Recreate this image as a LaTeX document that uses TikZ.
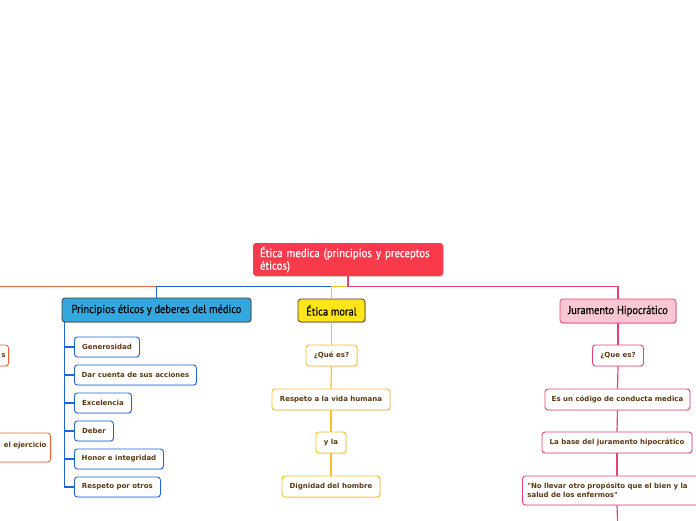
\documentclass[tikz,border=0pt]{standalone}
\usepackage{fontspec}
\usetikzlibrary{shadows}
\newfontfamily\titlefont[FakeStretch=0.9,FakeBold=0.4]{PT Sans}
\newfontfamily\lblfont{DejaVu Sans}
\definecolor{cred}{HTML}{F83A4B}
\definecolor{cblue}{HTML}{35A7DF}
\definecolor{cblueline}{HTML}{1E64D6}
\definecolor{cyellow}{HTML}{FFE51A}
\definecolor{cyelline}{HTML}{FBBF2A}
\definecolor{cpink}{HTML}{F9C6D4}
\definecolor{cpinkline}{HTML}{E9407A}
\definecolor{corange}{HTML}{F0633A}
\definecolor{ctext}{HTML}{5A3A12}
\definecolor{cdark}{HTML}{4A3C2C}
\tikzset{
  x=1pt,y=-1pt,
  mainbox/.style={rounded corners=3pt, inner sep=0pt, text centered, font=\titlefont\fontsize{12}{12.5}\selectfont, drop shadow={shadow xshift=1pt, shadow yshift=-1pt, opacity=0.3}},
  topbox/.style={rounded corners=3pt, inner sep=0pt, draw=cdark, line width=0.8pt, font=\titlefont\fontsize{11.6}{12}\selectfont, text=black, drop shadow={shadow xshift=1pt, shadow yshift=-1.2pt, opacity=0.35}},
  leaf/.style={rounded corners=3pt, inner sep=0pt, fill=white, line width=0.9pt, font=\lblfont\bfseries\fontsize{7}{9}\selectfont, text=ctext, drop shadow={shadow xshift=0.8pt, shadow yshift=-1pt, opacity=0.2}},
  bleaf/.style={leaf, draw=cblueline},
  yleaf/.style={leaf, draw=cyelline},
  pleaf/.style={leaf, draw=cpinkline},
  oleaf/.style={leaf, draw=corange},
  bline/.style={draw=cblueline, line width=1.2pt},
  yline/.style={draw=cyelline, line width=1.2pt},
  pline/.style={draw=cpinkline, line width=1.2pt},
  oline/.style={draw=corange, line width=1.2pt},
}
\begin{document}
\begin{tikzpicture}
\useasboundingbox (0,0) rectangle (696,520);
\clip (0,0) rectangle (696,520);
% central
\node[mainbox, fill=cred, text=white, minimum width=190, minimum height=33, align=left, text width=176] (c) at (348,259.5) {Ética medica (principios y preceptos\\éticos)};
% first level
\node[topbox, fill=cblue, minimum width=189, minimum height=24] (p) at (156.5,310) {Principios éticos y deberes del médico};
\node[topbox, fill=cyellow, minimum width=67, minimum height=23] (e) at (331.5,310.5) {Ética moral};
\node[topbox, fill=cpink, draw=cpinkline, minimum width=116, minimum height=24] (j) at (618,311) {Juramento Hipocrático};
\coordinate (oleft) at (-10,298);
% top connectors
\draw[oline] (c.south) -- ++(0,10) -| (oleft);
\draw[bline] (c.south) -- ++(0,10) -| (p.north);
\draw[yline] (c.south) -- ++(0,10) -| (e.north);
\draw[pline] (c.south) -- ++(0,10) -| (j.north);
% orange (cut off at left edge)
\node[oleaf, anchor=east, minimum width=60, minimum height=21, text width=54, align=right] (o1) at (9,355.5) {s};
\node[oleaf, anchor=east, minimum width=120, minimum height=29, text width=112, align=right] (o2) at (51,447.5) {el ejercicio\\[-3pt]\mbox{}};
% blue children
\node[bleaf, anchor=west, minimum width=65, minimum height=20] (b1) at (74,347) {Generosidad};
\node[bleaf, anchor=west, minimum width=122, minimum height=20] (b2) at (74,375) {Dar cuenta de sus acciones};
\node[bleaf, anchor=west, minimum width=57, minimum height=20] (b3) at (74,403) {Excelencia};
\node[bleaf, anchor=west, minimum width=39, minimum height=20] (b4) at (74,431) {Deber};
\node[bleaf, anchor=west, minimum width=89, minimum height=20] (b5) at (74,459) {Honor e integridad};
\node[bleaf, anchor=west, minimum width=86, minimum height=20] (b6) at (74,487) {Respeto por otros};
\foreach \n in {b1,b2,b3,b4,b5,b6}{
  \draw[bline] ([xshift=3pt]p.south west) |- (\n.west);
}
% yellow children
\node[yleaf, minimum width=51, minimum height=21] (y1) at (331.5,355.5) {¿Qué es?};
\node[yleaf, minimum width=118, minimum height=21] (y2) at (331,399.5) {Respeto a la vida humana};
\node[yleaf, minimum width=30, minimum height=21] (y3) at (331,442.5) {y la};
\node[yleaf, minimum width=98, minimum height=21] (y4) at (331,486.5) {Dignidad del hombre};
\draw[yline] (e.south) -- (y1.north);
\draw[yline] (y1.south) -- (y2.north);
\draw[yline] (y2.south) -- (y3.north);
\draw[yline] (y3.south) -- (y4.north);
% pink children
\node[pleaf, minimum width=51, minimum height=21] (q1) at (618,355.5) {¿Que es?};
\node[pleaf, minimum width=145, minimum height=21] (q2) at (617.5,399.5) {Es un código de conducta medica};
\node[pleaf, minimum width=150, minimum height=21] (q3) at (617,442.5) {La base del juramento hipocrático};
\node[pleaf, anchor=west, minimum width=180, minimum height=29, text width=170, align=left] (q4) at (522,490.5) {"No llevar otro propósito que el bien y la\\salud de los enfermos"};
\coordinate (qend) at (618,530);
\draw[pline] (j.south) -- (q1.north);
\draw[pline] (q1.south) -- (q2.north);
\draw[pline] (q2.south) -- (q3.north);
\draw[pline] (q3.south) -- (q3.south |- q4.north);
\draw[pline] (q3.south |- q4.south) -- (qend);
\end{tikzpicture}
\end{document}
